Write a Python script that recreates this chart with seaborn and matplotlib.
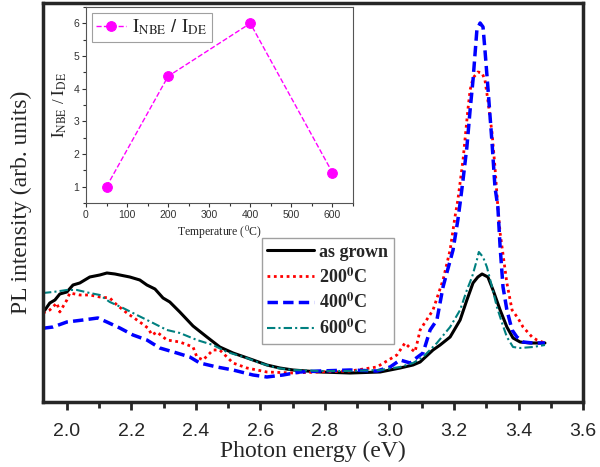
import matplotlib
matplotlib.use('Agg')
import matplotlib.pyplot as plt
from matplotlib.ticker import MultipleLocator
import seaborn as sns

# PL spectra (photon energy in eV, intensity in arb. units)
e_asgrown = [1.926, 1.932, 1.947, 1.963, 1.978, 2.000, 2.019, 2.040, 2.071, 2.102,
             2.124, 2.149, 2.164, 2.195, 2.226, 2.248, 2.273, 2.298, 2.319, 2.350,
             2.391, 2.434, 2.474, 2.515, 2.577, 2.620, 2.660, 2.701, 2.784, 2.878,
             2.971, 3.033, 3.073, 3.095, 3.135, 3.157, 3.188, 3.219, 3.240, 3.259,
             3.274, 3.287, 3.305, 3.321, 3.343, 3.364, 3.383, 3.405, 3.436, 3.482]
i_asgrown = [90, 92, 99, 102, 108, 110, 117, 119, 125, 127,
             129, 128, 127, 125, 122, 117, 113, 104, 100, 90,
             76, 65, 55, 49, 42, 37, 34, 32, 30, 29,
             30, 34, 37, 40, 52, 57, 65, 82, 102, 119,
             125, 128, 125, 112, 92, 75, 64, 60, 59, 59]

e_200 = [1.926, 1.947, 1.969, 1.978, 2.000, 2.009, 2.040, 2.071, 2.102, 2.133,
         2.155, 2.186, 2.226, 2.251, 2.264, 2.279, 2.310, 2.350, 2.391, 2.403,
         2.422, 2.453, 2.474, 2.515, 2.558, 2.620, 2.701, 2.784, 2.878, 2.961,
         3.023, 3.048, 3.064, 3.079, 3.088, 3.095, 3.135, 3.166, 3.188, 3.203,
         3.212, 3.228, 3.243, 3.250, 3.259, 3.274, 3.287, 3.296, 3.305, 3.318,
         3.327, 3.336, 3.343, 3.364, 3.380, 3.398, 3.414, 3.442, 3.457, 3.482]
i_200 = [89, 92, 99, 90, 102, 109, 107, 107, 105, 104,
         97, 89, 80, 74, 67, 70, 62, 60, 55, 45,
         42, 52, 52, 39, 34, 30, 29, 30, 31, 35,
         47, 59, 54, 50, 62, 72, 92, 122, 152, 185,
         202, 242, 292, 312, 324, 330, 329, 322, 302, 269,
         235, 195, 169, 119, 92, 84, 75, 65, 62, 59]

e_400 = [1.926, 1.932, 1.957, 2.000, 2.050, 2.096, 2.124, 2.164, 2.205, 2.248,
         2.288, 2.341, 2.381, 2.412, 2.465, 2.515, 2.577, 2.620, 2.670, 2.722,
         2.784, 2.878, 2.961, 3.002, 3.033, 3.064, 3.079, 3.104, 3.126, 3.147,
         3.166, 3.197, 3.212, 3.219, 3.228, 3.240, 3.250, 3.259, 3.271, 3.281,
         3.290, 3.296, 3.305, 3.318, 3.327, 3.336, 3.343, 3.352, 3.364, 3.380,
         3.395, 3.414, 3.445, 3.482]
i_400 = [73, 74, 75, 80, 82, 84, 80, 74, 67, 62,
         54, 49, 45, 39, 35, 32, 27, 25, 27, 30,
         31, 32, 31, 35, 42, 39, 43, 49, 72, 82,
         115, 152, 182, 199, 222, 255, 292, 322, 372, 379,
         375, 352, 315, 259, 215, 195, 155, 115, 92, 72,
         65, 60, 59, 59]

e_600 = [1.926, 1.957, 2.000, 2.031, 2.071, 2.102, 2.133, 2.174, 2.217, 2.267,
         2.310, 2.350, 2.403, 2.453, 2.496, 2.558, 2.598, 2.651, 2.701, 2.784,
         2.878, 2.971, 3.033, 3.073, 3.104, 3.147, 3.188, 3.219, 3.240, 3.256,
         3.271, 3.277, 3.290, 3.302, 3.318, 3.333, 3.349, 3.364, 3.383, 3.405,
         3.445, 3.482]
i_600 = [109, 110, 112, 112, 109, 107, 100, 94, 87, 79,
         72, 69, 62, 57, 50, 44, 39, 34, 32, 31,
         31, 32, 35, 39, 45, 59, 75, 92, 112, 125,
         142, 150, 145, 135, 115, 95, 79, 65, 55, 54,
         55, 57]

# inset: intensity ratio vs annealing temperature
temps = [50, 200, 400, 600]
ratio = [1.0, 4.38, 6.0, 1.43]

sns.set_style('ticks')
plt.rcParams['font.family'] = ['Liberation Sans', 'DejaVu Sans']
plt.rcParams['mathtext.fontset'] = 'stix'

fig = plt.figure(figsize=(6, 4.67), dpi=100)
ax = fig.add_axes([0.0717, 0.1392, 0.9, 0.8544])

sns.lineplot(x=e_asgrown, y=i_asgrown, ax=ax, color='black', lw=2.2,
             label='as grown', estimator=None, sort=False)
sns.lineplot(x=e_200, y=i_200, ax=ax, color='#ff0000', lw=2.0,
             linestyle=(0, (1, 1.3)), label='200$^{\\mathbf{0}}$C',
             estimator=None, sort=False)
sns.lineplot(x=e_400, y=i_400, ax=ax, color='#0000ff', lw=2.5,
             linestyle=(0, (3, 1.5)), label='400$^{\\mathbf{0}}$C',
             estimator=None, sort=False)
sns.lineplot(x=e_600, y=i_600, ax=ax, color='#008080', lw=1.5,
             linestyle=(0, (4, 1.5, 1, 1.5)), label='600$^{\\mathbf{0}}$C',
             estimator=None, sort=False)

ax.set_xlim(1.926, 3.6)
ax.set_ylim(0, 399)
ax.xaxis.set_major_locator(MultipleLocator(0.2))
ax.xaxis.set_minor_locator(MultipleLocator(0.1))
ax.set_yticks([])
ax.tick_params(axis='x', which='major', direction='out', length=6, width=2,
               labelsize=14, pad=9)
ax.tick_params(axis='x', which='minor', direction='out', length=4, width=2)
for s in ax.spines.values():
    s.set_linewidth(2.5)
    s.set_visible(True)
ax.set_xlabel('Photon energy (eV)', family='Liberation Serif', fontsize=17,
              labelpad=1)
ax.set_ylabel('PL intensity (arb. units)', family='Liberation Serif',
              fontsize=17, labelpad=8)

leg = ax.legend(loc='upper left', bbox_to_anchor=(0.405, 0.41),
                prop={'family': 'Liberation Serif', 'weight': 'bold', 'size': 13},
                handlelength=2.6, handletextpad=0.3, labelspacing=0.35,
                borderpad=0.3, fancybox=False, borderaxespad=0)
leg.get_frame().set_edgecolor('#888888')
leg.get_frame().set_linewidth(1.0)

# inset
ax2 = fig.add_axes([0.1433, 0.5653, 0.445, 0.4197])
sns.lineplot(x=temps, y=ratio, ax=ax2, color='#ff00ff', lw=1.0,
             linestyle='--', marker='o', markersize=7,
             markeredgecolor='#ff00ff',
             label='$\\mathrm{I_{NBE}}$ / $\\mathrm{I_{DE}}$',
             estimator=None, sort=False)
ax2.set_xlim(0, 650)
ax2.set_ylim(0.5, 6.5)
ax2.xaxis.set_major_locator(MultipleLocator(100))
ax2.xaxis.set_minor_locator(MultipleLocator(50))
ax2.yaxis.set_major_locator(MultipleLocator(1))
ax2.yaxis.set_minor_locator(MultipleLocator(0.5))
ax2.tick_params(which='major', direction='out', length=3, width=0.8,
                labelsize=7.5, colors='#333333', pad=2)
ax2.tick_params(which='minor', direction='out', length=2, width=0.8,
                colors='#333333')
for s in ax2.spines.values():
    s.set_linewidth(0.8)
    s.set_color('#555555')
ax2.set_xlabel('Temperature ($^{0}$C)', family='Liberation Serif',
               fontsize=8.5, labelpad=3)
ax2.set_ylabel('$\\mathrm{I_{NBE}}$ / $\\mathrm{I_{DE}}$',
               family='Liberation Serif', fontsize=12, labelpad=3)
leg2 = ax2.legend(loc='upper left', fontsize=13.5, handlelength=1.6,
                  handletextpad=0.3, borderpad=0.25, fancybox=False,
                  borderaxespad=0.3)
leg2.get_frame().set_edgecolor('#888888')
leg2.get_frame().set_linewidth(0.8)

fig.savefig('out.png', dpi=100)
